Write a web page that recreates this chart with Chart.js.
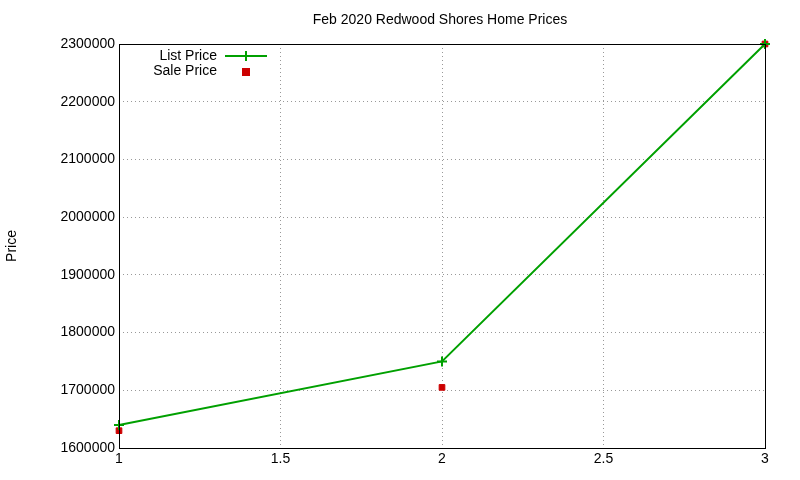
<!DOCTYPE html>
<html><head><meta charset="utf-8">
<script src="https://cdn.jsdelivr.net/npm/chart.js@4"></script>
<style>html,body{margin:0;padding:0;background:#fff}#w{width:800px;height:480px}</style>
</head><body><div id="w"><canvas id="c"></canvas></div>
<script>
const xs = [1, 2, 3];
const listPrice = [1640000, 1750000, 2300000];
const salePrice = [1630000, 1705000, 2300000];
const titleText = 'Feb 2020 Redwood Shores Home Prices';
const yLabel = 'Price';
const seriesNames = ['List Price', 'Sale Price'];
const F = 'Liberation Sans, Arial, sans-serif';

const deco = {
  id: 'deco',
  afterDraw(c) {
    const ctx = c.ctx, a = c.chartArea;
    ctx.save();
    ctx.strokeStyle = '#000'; ctx.lineWidth = 1;
    ctx.strokeRect(a.left + 0.5, a.top + 0.5, a.right - a.left, a.bottom - a.top);
    ctx.fillStyle = '#000'; ctx.font = '14px ' + F;
    ctx.textAlign = 'center'; ctx.textBaseline = 'middle';
    ctx.fillText(titleText, 440, 20);
    ctx.save(); ctx.translate(12, (a.top + a.bottom) / 2); ctx.rotate(-Math.PI / 2);
    ctx.fillText(yLabel, 0, 0); ctx.restore();
    ctx.textAlign = 'right';
    ctx.fillText(seriesNames[0], 217, 56);
    ctx.fillText(seriesNames[1], 217, 71);
    ctx.strokeStyle = '#00a000'; ctx.lineWidth = 2;
    ctx.beginPath(); ctx.moveTo(225, 56); ctx.lineTo(267, 56);
    ctx.moveTo(246, 51); ctx.lineTo(246, 61); ctx.stroke();
    ctx.fillStyle = '#cc0000'; ctx.fillRect(242, 68, 8, 8);
    ctx.restore();
  }
};

new Chart(document.getElementById('c'), {
  type: 'scatter',
  data: {
    datasets: [
      { label: seriesNames[0], data: xs.map((x, i) => ({x, y: listPrice[i]})), showLine: true,
        borderColor: '#00a000', backgroundColor: '#00a000', borderWidth: 2, clip: false,
        pointStyle: 'cross', pointRadius: 5, pointBorderWidth: 2 },
      { label: seriesNames[1], data: xs.map((x, i) => ({x, y: salePrice[i]})), clip: false,
        borderColor: '#cc0000', backgroundColor: '#cc0000',
        pointStyle: 'rect', pointRadius: 4 }
    ]
  },
  options: {
    responsive: true, maintainAspectRatio: false, animation: false,
    layout: { padding: { top: 44, right: 35, left: 0, bottom: 0 } },
    plugins: { legend: { display: false }, tooltip: { enabled: false } },
    scales: {
      x: { type: 'linear', min: 1, max: 3,
        ticks: { stepSize: 0.5, color: '#000', font: { size: 14, family: F }, maxRotation: 0,
          callback: v => String(v) },
        grid: { color: '#999', tickLength: 0 }, border: { display: false, dash: [1, 3] },
        afterFit(s) { s.height = 32; } },
      y: { min: 1600000, max: 2300000,
        ticks: { stepSize: 100000, color: '#000', font: { size: 14, family: F }, padding: 4,
          callback: v => String(v) },
        grid: { color: '#999', tickLength: 0 }, border: { display: false, dash: [1, 3] },
        afterFit(s) { s.width = 119; } }
    }
  },
  plugins: [deco]
});
</script></body></html>
